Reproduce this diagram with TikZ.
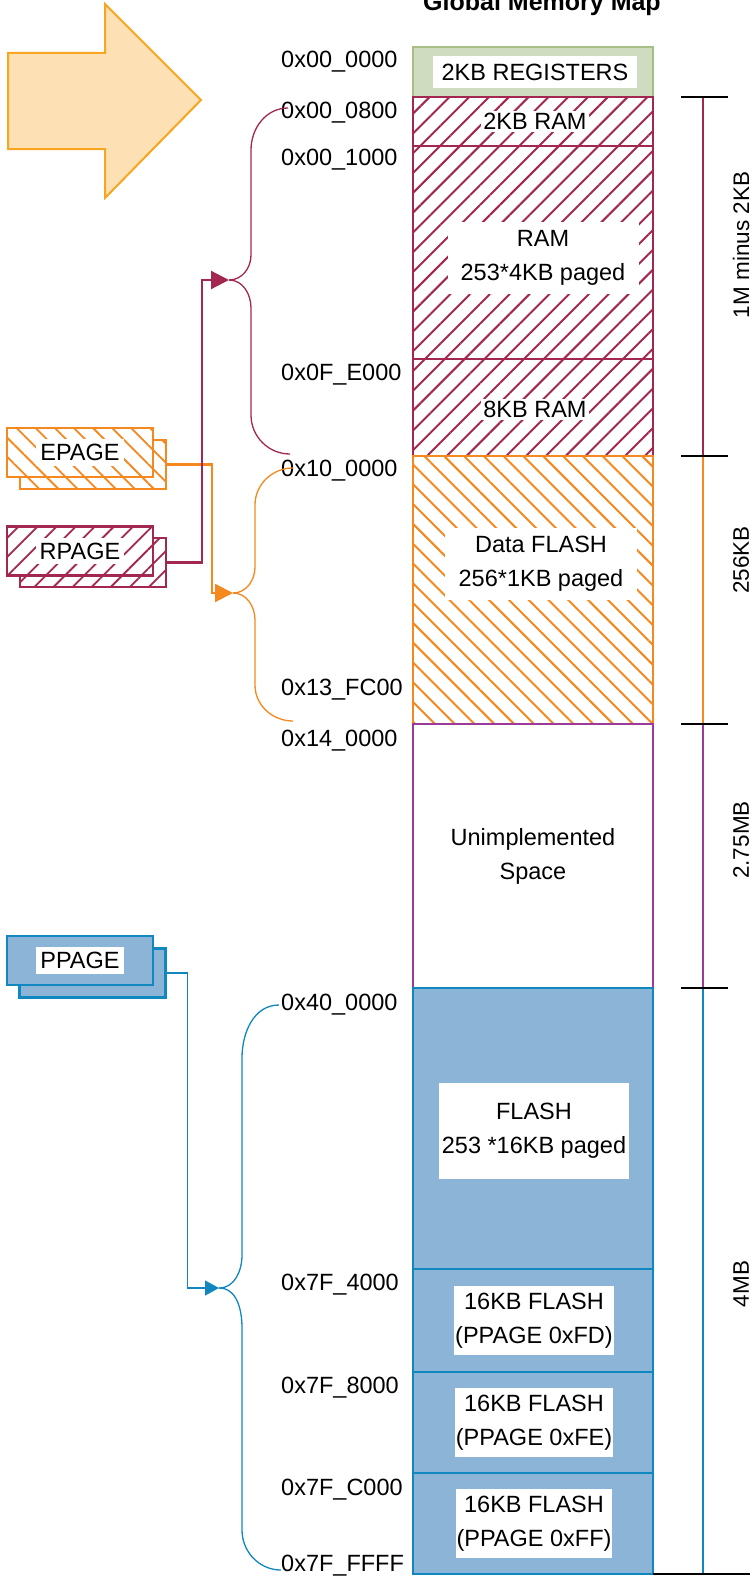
\documentclass[tikz,border=0pt]{standalone}
\usepackage{fontspec}
\setmainfont{Liberation Sans}
\usepackage{tikz}
\usetikzlibrary{arrows.meta,positioning,patterns.meta}
\definecolor{ramc}{HTML}{A3284F}
\definecolor{orgc}{HTML}{F5881F}
\definecolor{purc}{HTML}{9C3A9C}
\definecolor{bluc}{HTML}{1087BE}
\definecolor{flf}{HTML}{8BB4D6}
\definecolor{regf}{HTML}{D0DCC0}
\definecolor{regd}{HTML}{A7BE88}
\definecolor{arrf}{HTML}{FDE1B4}
\definecolor{arrd}{HTML}{F8A51F}
\tikzset{blk/.style={draw, line width=2.5pt, minimum width=240pt, inner sep=0pt, outer sep=0pt, anchor=north, align=center},
         lbl/.style={fill=white, inner sep=2pt, align=center},
         addr/.style={anchor=west, inner sep=2pt, text height=16.8pt, text depth=0pt},
         pg/.style={line width=2.2pt, minimum width=146pt, minimum height=49pt, inner sep=0pt, preaction={fill=white}},
         plbl/.style={fill=white, inner xsep=4pt, inner ysep=5pt},
         brc/.style={line width=1.3pt},
         parr/.style={line width=2.2pt, -{Triangle[length=18pt,width=18pt]}},
         dline/.style={line width=2.5pt},
         tck/.style={line width=1.4pt, black},
         vlbl/.style={rotate=90, font=\fontsize{22.5}{27}\selectfont},
         ramhatch/.style={pattern={Lines[angle=45,distance=14pt,line width=2pt]}, pattern color=ramc},
         dflhatch/.style={pattern={Lines[angle=-45,distance=14pt,line width=2pt]}, pattern color=orgc},
         rphatch/.style={pattern={Lines[angle=45,distance=13.5pt,line width=1.8pt]}, pattern color=ramc},
         ephatch/.style={pattern={Lines[angle=-45,distance=13.5pt,line width=1.8pt]}, pattern color=orgc}}

\begin{document}
\begin{tikzpicture}[x=1pt, y=-1pt, font=\fontsize{23.5}{34}\selectfont]
\useasboundingbox (0,0) rectangle (755,1576);
% pointer arrow
\draw[draw=arrd, fill=arrf, line width=2pt] (8,53) -- (105,53) -- (105,4) -- (201,100) -- (105,198) -- (105,149) -- (8,149) -- cycle;
\node[font=\fontsize{25}{30}\selectfont\bfseries, anchor=base] (title) at (542,11) {Global Memory Map};
% memory blocks
\node[blk, draw=regd, fill=regf, minimum height=50pt] (reg) at (533,47) {};
\node[blk, draw=ramc, ramhatch, minimum height=49pt, below=0pt of reg] (ram2) {};
\node[blk, draw=ramc, ramhatch, minimum height=213pt, below=0pt of ram2] (ram) {};
\node[blk, draw=ramc, ramhatch, minimum height=97pt, below=0pt of ram] (ram8) {};
\node[blk, draw=orgc, dflhatch, minimum height=268pt, below=0pt of ram8] (dfl) {};
\node[blk, draw=purc, minimum height=264pt, below=0pt of dfl] (unimp) {Unimplemented\\Space};
\node[blk, draw=bluc, fill=flf, minimum height=281pt, below=0pt of unimp] (flash) {};
\node[blk, draw=bluc, fill=flf, minimum height=103pt, below=0pt of flash] (fd) {};
\node[blk, draw=bluc, fill=flf, minimum height=101pt, below=0pt of fd] (fe) {};
\node[blk, draw=bluc, fill=flf, minimum height=101pt, below=0pt of fe] (ff) {};
\node[lbl, minimum width=204pt, minimum height=32pt, inner sep=0pt] (reglbl) at ([xshift=2]reg.center) {2KB REGISTERS};
\node[lbl] (ram2lbl) at ([xshift=2]ram2.center) {2KB RAM};
\node[lbl, minimum width=191pt, minimum height=72pt] (ramlbl) at ([xshift=10,yshift=-5]ram.center) {RAM\\253*4KB paged};
\node[lbl] (ram8lbl) at ([xshift=2,yshift=-2]ram8.center) {8KB RAM};
\node[lbl, minimum width=192pt, minimum height=72pt] (dfllbl) at ([xshift=8,yshift=26]dfl.center) {Data FLASH\\256*1KB paged};
\node[lbl, minimum width=190pt, minimum height=96pt] (flashlbl) at ([xshift=1,yshift=-2]flash.center) {FLASH\\253 *16KB paged};
\node[lbl, inner xsep=1pt, inner ysep=7pt] (fdlbl) at ([xshift=1]fd.center) {16KB FLASH\\(PPAGE 0xFD)};
\node[lbl, inner xsep=1pt, inner ysep=7pt] (felbl) at ([xshift=1]fe.center) {16KB FLASH\\(PPAGE 0xFE)};
\node[lbl, inner xsep=1pt, inner ysep=7pt] (fflbl) at ([xshift=1]ff.center) {16KB FLASH\\(PPAGE 0xFF)};
% addresses
\node[addr] (a0000) at (279,59) {0x00\_0000};
\node[addr] (a0800) at (279,110) {0x00\_0800};
\node[addr] (a1000) at (279,157) {0x00\_1000};
\node[addr] (aE000) at (279,372) {0x0F\_E000};
\node[addr] (a100000) at (279,468) {0x10\_0000};
\node[addr] (aFC00) at (279,687) {0x13\_FC00};
\node[addr] (a140000) at (279,738) {0x14\_0000};
\node[addr] (a400000) at (279,1002) {0x40\_0000};
\node[addr] (a4000) at (279,1282) {0x7F\_4000};
\node[addr] (a8000) at (279,1385) {0x7F\_8000};
\node[addr] (aC000) at (279,1487) {0x7F\_C000};
\node[addr] (aFFFF) at (279,1563) {0x7F\_FFFF};
% page registers
\node[pg, draw=orgc, ephatch] (ep2) at (93,464.5) {};
\node[pg, draw=orgc, ephatch] (ep) at (80,452.5) {};
\node[plbl] (eplbl) at (ep) {EPAGE};
\node[pg, draw=ramc, rphatch] (rp2) at (93,562.5) {};
\node[pg, draw=ramc, rphatch] (rp) at (80,551) {};
\node[plbl] (rplbl) at (rp) {RPAGE};
\node[pg, draw=bluc, fill=flf, line width=2.5pt] (pp2) at (92.5,973) {};
\node[pg, draw=bluc, fill=flf, line width=2.5pt] (pp) at (80,960.5) {};
\node[plbl] (pplbl) at (pp) {PPAGE};
% brace ends
\coordinate (ramtip) at (229,280);
\coordinate (ramtop) at (288,108);
\coordinate (ramend) at (290,454);
\coordinate (dftip) at (233,593);
\coordinate (dftop) at (293,468);
\coordinate (dfend) at (293,721);
\coordinate (fltip) at (219,1288);
\coordinate (fltop) at (279,1005);
\coordinate (flend) at (281,1570);
\draw[brc, ramc] (ramtip) to[out=0,in=-90] (251,255) -- (251,150) to[out=90,in=180] (ramtop);
\draw[brc, ramc] (ramtip) to[out=0,in=90] (251,308) -- (251,415) to[out=-90,in=180] (ramend);
\draw[brc, orgc] (dftip) to[out=0,in=-90] (255,567) -- (255,505) to[out=90,in=180] (dftop);
\draw[brc, orgc] (dftip) to[out=0,in=90] (255,620) -- (255,685) to[out=-90,in=180] (dfend);
\draw[brc, bluc] (fltip) to[out=0,in=-90] (242,1255) -- (242,1058) to[out=90,in=180] (fltop);
\draw[brc, bluc] (fltip) to[out=0,in=90] (242,1328) -- (242,1530) to[out=-90,in=180] (flend);
\draw[parr, orgc] (ep2.east) -- ++(45,0) |- (dftip);
\draw[parr, ramc] (rp2.east) -- ++(35,0) |- (ramtip);
\draw[parr, bluc, line width=1.3pt, -{Triangle[length=14pt,width=15pt]}] (pp2.east) -- ++(21,0) |- (fltip);
% size bars
\coordinate (dimx) at (703,0);
\draw[dline, ramc] (dimx |- ram2.north) -- (dimx |- ram8.south);
\draw[dline, orgc] (dimx |- dfl.north) -- (dimx |- dfl.south);
\draw[dline, purc] (dimx |- unimp.north) -- (dimx |- unimp.south);
\draw[dline, bluc] (dimx |- flash.north) -- (dimx |- ff.south);
\foreach \b in {ram2,dfl,unimp,flash} \draw[tck] (dimx |- \b.north) ++(-22,0) -- ++(47,0);
\draw[tck] (ff.south east) -- ++(97,0);
\node[vlbl] (d1m) at (741,245) {1M minus 2KB};
\node[vlbl] (d256) at (741,560) {256KB};
\node[vlbl] (d275) at (741,840) {2.75MB};
\node[vlbl] (d4m) at (741,1284) {4MB};
\end{tikzpicture}
\end{document}
